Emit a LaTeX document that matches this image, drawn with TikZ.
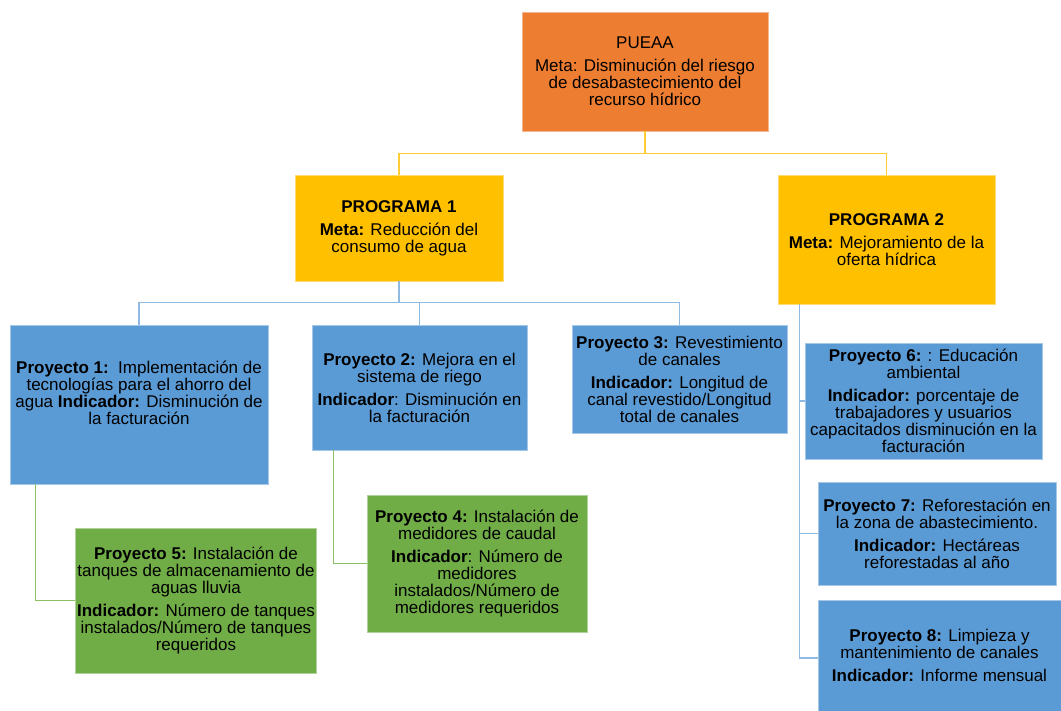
\documentclass[tikz,border=0pt]{standalone}
\usepackage{fontspec}
\setmainfont{Liberation Sans}
\usetikzlibrary{calc}

\definecolor{naranja}{HTML}{ED7D31}
\definecolor{oro}{HTML}{FFC000}
\definecolor{azul}{HTML}{5B9BD5}
\definecolor{verde}{HTML}{70AD47}
\definecolor{lineaoro}{HTML}{FFCC33}
\definecolor{lineaazul}{HTML}{8FBBE3}
\definecolor{lineaverde}{HTML}{8CC065}

\tikzset{
  caja/.style={rectangle, align=center, inner sep=2pt, line width=0.8pt,
    font=\fontsize{17}{17}\selectfont},
  meta/.style={caja, fill=naranja, draw=naranja!55!white},
  programa/.style={caja, fill=oro, draw=oro!55!white},
  proyecto/.style={caja, fill=azul, draw=azul!55!white},
  subproyecto/.style={caja, fill=verde, draw=verde!55!white},
  conector/.style={line width=1.6pt}
}

\begin{document}
\begin{tikzpicture}[x=1pt,y=-1pt]
    \useasboundingbox (0,0) rectangle (1061,711);

    \node[meta, minimum width=246, minimum height=119] (pueaa) at (645,71.5)
      {PUEAA\\[6pt] Meta: Disminución del riesgo\\ de desabastecimiento del\\ recurso hídrico};

    \node[programa, minimum width=208, minimum height=106] (prog1) at (399,228)
      {\textbf{PROGRAMA 1}\\[6pt] \textbf{Meta:} Reducción del\\ consumo de agua};
    \node[programa, minimum width=217, minimum height=129] (prog2) at (886.5,239.5)
      {\textbf{PROGRAMA 2}\\[6pt] \textbf{Meta:} Mejoramiento de la\\ oferta hídrica};

    \node[proyecto, minimum width=258, minimum height=159] (proy1) at (139,404.5)
      {\textbf{Proyecto 1:}\ \ Implementación de\\ tecnologías para el ahorro del\\
       agua \textbf{Indicador:} Disminución de\\ la facturación\\[6pt] \mbox{}};
    \node[proyecto, minimum width=215, minimum height=125] (proy2) at (419.5,387.5)
      {\textbf{Proyecto 2:} Mejora en el\\ sistema de riego\\[6pt]
       \textbf{Indicador}: Disminución en\\ la facturación};
    \node[proyecto, minimum width=215, minimum height=108] (proy3) at (679.5,379)
      {\textbf{Proyecto 3:} Revestimiento\\ de canales\\[6pt]
       \textbf{Indicador:} Longitud de\\ canal revestido/Longitud\\ total de canales};

    \node[subproyecto, minimum width=220, minimum height=137] (proy4) at (477,563.5)
      {\textbf{Proyecto 4:} Instalación de\\ medidores de caudal\\[6pt]
       \textbf{Indicador}: Número de\\ medidores\\ instalados/Número de\\ medidores requeridos};
    \node[subproyecto, minimum width=240, minimum height=145] (proy5) at (196,600.5)
      {\textbf{Proyecto 5:} Instalación de\\ tanques de almacenamiento de\\ aguas lluvia\\[6pt]
       \textbf{Indicador:} Número de tanques\\ instalados/Número de tanques\\ requeridos};

    \node[proyecto, minimum width=237, minimum height=116] (proy6) at (923.5,401)
      {\textbf{Proyecto 6:} : Educación\\ ambiental\\[6pt]
       \textbf{Indicador:} porcentaje de\\ trabajadores y usuarios\\
       capacitados disminución en la\\ facturación};
    \node[proyecto, minimum width=238, minimum height=103] (proy7) at (937,533.5)
      {\textbf{Proyecto 7:} Reforestación en\\ la zona de abastecimiento.\\[6pt]
       \textbf{Indicador:} Hectáreas\\ reforestadas al año};
    \node[proyecto, minimum width=243, minimum height=111] (proy8) at (939.5,655.5)
      {\textbf{Proyecto 8:} Limpieza y\\ mantenimiento de canales\\[6pt]
       \textbf{Indicador:} Informe mensual};

    % Conectores PUEAA -> programas
    \coordinate (nivel1) at ($(pueaa.south)+(0,22)$);
    \draw[conector, lineaoro] (pueaa.south) -- (nivel1) -| (prog1.north);
    \draw[conector, lineaoro] (nivel1) -| (prog2.north);

    % Programa 1 -> proyectos 1, 2, 3
    \coordinate (nivel2) at ($(prog1.south)+(0,21)$);
    \draw[conector, lineaazul] (prog1.south) -- (nivel2) -| (proy1.north);
    \draw[conector, lineaazul] (nivel2) -| (proy2.north);
    \draw[conector, lineaazul] (nivel2) -| (proy3.north);

    % Programa 2 -> proyectos 6, 7, 8
    \coordinate (tronco) at ($(prog2.south west)+(22,0)$);
    \draw[conector, lineaazul] (tronco) |- (proy6.west);
    \draw[conector, lineaazul] (tronco) |- (proy7.west);
    \draw[conector, lineaazul] (tronco) |- ($(proy8.west)+(0,2.5)$);

    % Subproyectos
    \coordinate (rama1) at ($(proy1.south west)+(26,0)$);
    \coordinate (rama2) at ($(proy2.south west)+(22,0)$);
    \draw[conector, lineaverde] (rama1) |- (proy5.west);
    \draw[conector, lineaverde] (rama2) |- (proy4.west);
\end{tikzpicture}
\end{document}
